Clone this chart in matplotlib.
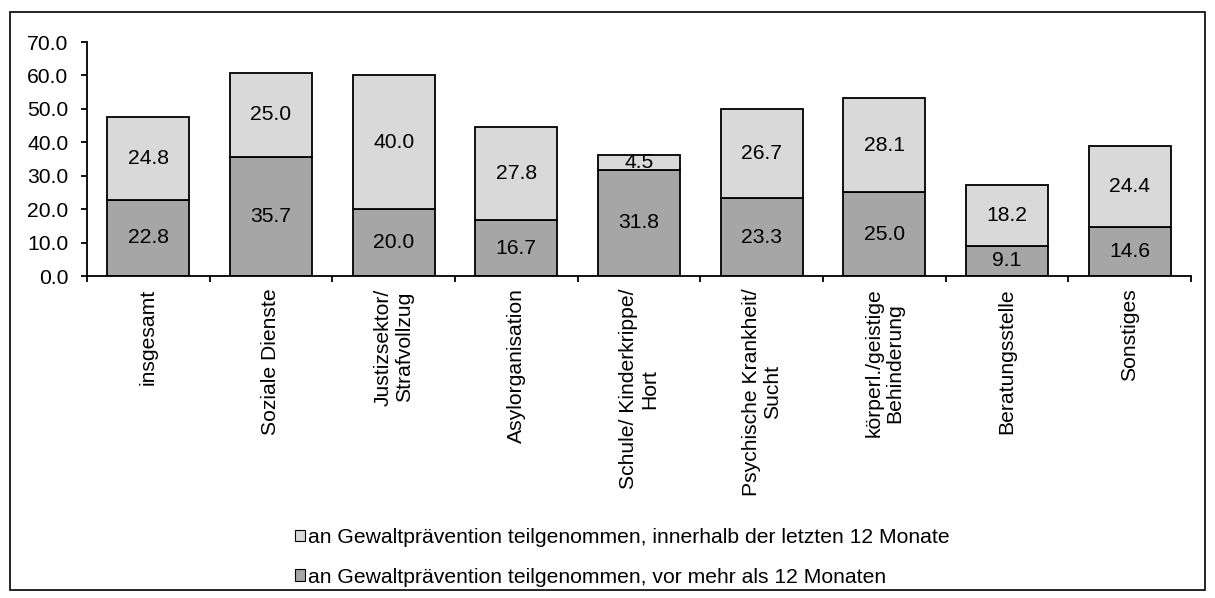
import matplotlib
matplotlib.use("Agg")
import matplotlib.pyplot as plt
import numpy as np
from matplotlib.patches import Rectangle

plt.rcParams['font.family'] = ['Liberation Sans', 'DejaVu Sans']

categories = ["insgesamt", "Soziale Dienste", "Justizsektor/\nStrafvollzug",
              "Asylorganisation", "Schule/ Kinderkrippe/\nHort",
              "Psychische Krankheit/\nSucht", "körperl./geistige\nBehinderung",
              "Beratungsstelle", "Sonstiges"]
older = [22.8, 35.7, 20.0, 16.7, 31.8, 23.3, 25.0, 9.1, 14.6]
recent = [24.8, 25.0, 40.0, 27.8, 4.5, 26.7, 28.1, 18.2, 24.4]
label_recent = "an Gewaltprävention teilgenommen, innerhalb der letzten 12 Monate"
label_older = "an Gewaltprävention teilgenommen, vor mehr als 12 Monaten"

FS = 15.2
LFS = 15.2

fig = plt.figure(figsize=(12.15, 5.98), dpi=100)
ax = fig.add_axes([87/1215, 1-276/598, (1191-87)/1215, (276-42)/598])

x = np.arange(len(categories))
w = 0.67
b1 = ax.bar(x, older, w, color="#a6a6a6", edgecolor="black", linewidth=1.3, label=label_older, zorder=2)
b2 = ax.bar(x, recent, w, bottom=older, color="#d9d9d9", edgecolor="black", linewidth=1.3, label=label_recent, zorder=2)

for xi, o, r in zip(x, older, recent):
    ax.text(xi, o/2, f"{o:.1f}", ha="center", va="center", fontsize=FS, zorder=3)
    ax.text(xi, o + r/2, f"{r:.1f}", ha="center", va="center", fontsize=FS, zorder=3)

ax.set_xlim(-0.5, len(categories)-0.5)
ax.set_ylim(0, 70)
ax.set_yticks(np.arange(0, 71, 10))
ax.set_yticklabels([f"{v:.1f}" for v in np.arange(0, 71, 10)], fontsize=FS)
ax.set_xticks(x)
ax.set_xticklabels(categories, rotation=90, ha="center", va="top", fontsize=FS, multialignment="center",
                   linespacing=1.15)
ax.tick_params(axis="x", which="major", length=0, pad=9)
ax.set_xticks(np.arange(-0.5, len(categories), 1), minor=True)
ax.tick_params(axis="x", which="minor", length=4.5, width=1.3, direction="out")
ax.tick_params(axis="y", length=4.5, width=1.3, direction="out", pad=9)
for s in ["top", "right"]:
    ax.spines[s].set_visible(False)
for s in ["left", "bottom"]:
    ax.spines[s].set_linewidth(1.3)

leg = fig.legend(handles=[b2, b1], labels=[label_recent, label_older],
                 loc="upper left", bbox_to_anchor=(295/1215, 1-528/598),
                 frameon=False, fontsize=LFS, handlelength=0.45, handleheight=0.45,
                 handletextpad=0.15, labelspacing=0.98, borderpad=0, borderaxespad=0)
for h in leg.legend_handles:
    h.set_linewidth(0.8)

fig.patches.append(Rectangle((10/1215, 1-590/598), 1195/1215, 578/598, transform=fig.transFigure,
                             fill=False, edgecolor="black", linewidth=1.2))

fig.savefig("out.png", dpi=100)
